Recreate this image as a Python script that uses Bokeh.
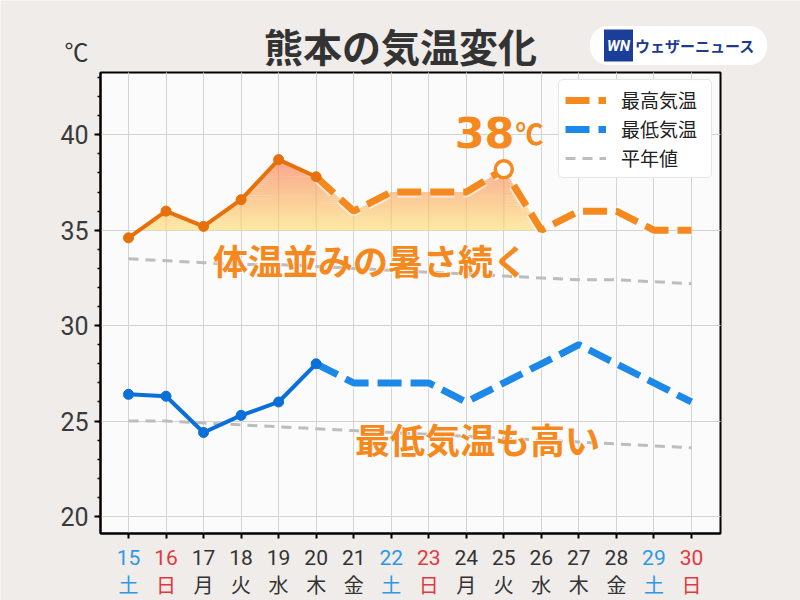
import numpy as np
from bokeh.plotting import figure
from bokeh.models import (Label, Legend, LegendItem, SingleIntervalTicker, FixedTicker, Range1d)
from bokeh.embed import file_html
from bokeh.resources import INLINE

# ---------------- data ----------------
days = [15, 16, 17, 18, 19, 20, 21, 22, 23, 24, 25, 26, 27, 28, 29, 30]
weekdays = ["土", "日", "月", "火", "水", "木", "金", "土", "日", "月", "火", "水", "木", "金", "土", "日"]
y_ticks = [20, 25, 30, 35, 40]

obs_days = [15, 16, 17, 18, 19, 20]
obs_max = [34.6, 36.0, 35.2, 36.6, 38.7, 37.8]
obs_min = [26.4, 26.3, 24.4, 25.3, 26.0, 28.0]

fc_days = [20, 21, 22, 23, 24, 25, 26, 27, 28, 29, 30]
fc_max = [37.8, 36.0, 37.0, 37.0, 37.0, 38.2, 35.0, 36.0, 36.0, 35.0, 35.0]
fc_min = [28.0, 27.0, 27.0, 27.0, 26.0, 27.0, 28.0, 29.0, 28.0, 27.0, 26.0]

normal_max = [33.5, 33.4, 33.3, 33.2, 33.2, 33.1, 33.0, 32.9, 32.8, 32.7, 32.6, 32.5, 32.4, 32.4, 32.3, 32.2]
normal_min = [25.0, 25.0, 24.9, 24.8, 24.7, 24.6, 24.5, 24.4, 24.3, 24.2, 24.1, 24.0, 23.9, 23.8, 23.7, 23.6]

peak_day = 25
peak_value = 38.2
fill_base = 35.0
fill_end_day = 26

title_text = "熊本の気温変化"
comment_high = "体温並みの暑さ続く"
comment_low = "最低気温も高い"
legend_labels = ["最高気温", "最低気温", "平年値"]

# ---------------- style ----------------
ORANGE = "#f5891e"
ORANGE_D = "#e8700a"
BLUE = "#1c88ea"
BLUE_D = "#0a6fd8"
GRAY = "#bdbdbd"
BG = "#efecea"
JP = "Noto Sans CJK JP"
SAT = "#2f98e4"
SUN = "#e2393d"
TXT = "#333333"

W, H = 800, 600
PXD = 37.53   # pixels per day
PYU = 19.085  # pixels per degree


def cx(px):
    return 15 + (px - 128) / PXD


def cy(py):
    return 20 + (516 - py) / PYU


XL, XR = cx(100), cx(720)
YB, YT = cy(533), cy(72)

p = figure(width=W, height=H, output_backend="svg", toolbar_location=None,
           x_range=Range1d(cx(0), cx(W)), y_range=Range1d(cy(H), cy(0)),
           min_border_left=0, min_border_right=0, min_border_top=0, min_border_bottom=0)
p.background_fill_color = BG
p.border_fill_color = BG
p.outline_line_color = None

# plot area
p.quad(left=[XL], right=[XR], bottom=[YB], top=[YT], fill_color="#fcfbfc",
       line_color="black", line_width=2, level="image")

# axes
p.yaxis.ticker = SingleIntervalTicker(interval=5, num_minor_ticks=5)
p.yaxis.fixed_location = XL
p.yaxis.bounds = (YB, YT)
p.yaxis.axis_line_width = 2
p.yaxis.axis_line_color = "black"
p.yaxis.major_tick_out = 6
p.yaxis.major_tick_in = 0
p.yaxis.minor_tick_out = 3
p.yaxis.minor_tick_in = 0
p.yaxis.major_tick_line_width = 2
p.yaxis.minor_tick_line_width = 1.5
p.yaxis.major_label_text_font_size = "25px"
p.yaxis.major_label_text_font = "Roboto"
p.yaxis.major_label_text_color = "#3a3a3a"
p.yaxis.major_label_standoff = 6

p.xaxis.ticker = FixedTicker(ticks=days)
p.xaxis.fixed_location = YB
p.xaxis.bounds = (XL, XR)
p.xaxis.axis_line_width = 2
p.xaxis.axis_line_color = "black"
p.xaxis.major_tick_out = 5
p.xaxis.major_tick_in = 0
p.xaxis.major_tick_line_width = 2
p.xaxis.minor_tick_line_color = None
p.xaxis.major_label_text_color = None

GRID = "#d3d3d3"
try:
    p.xgrid.cross_bounds = (YB, YT)
    p.ygrid.cross_bounds = (XL, XR)
    p.ygrid.bounds = (YB, YT)
    p.xgrid.bounds = (XL, XR)
    p.xgrid.grid_line_color = GRID
    p.ygrid.grid_line_color = GRID
except Exception:
    p.xgrid.visible = False
    p.ygrid.visible = False
    p.segment(x0=days, y0=[YB] * len(days), x1=days, y1=[YT] * len(days),
              line_color=GRID, line_width=1, level="underlay")
    p.segment(x0=[XL] * len(y_ticks), y0=y_ticks, x1=[XR] * len(y_ticks), y1=y_ticks,
              line_color=GRID, line_width=1, level="underlay")

# ---------------- gradient fill under max line ----------------
X = np.array(obs_days + fc_days[1:], dtype=float)
Y = np.array(obs_max + fc_max[1:], dtype=float)
mask = X <= fill_end_day
Xf, Yf = X[mask], Y[mask]
top = Yf.max()
c0 = np.array([253, 233, 163])
c1 = np.array([249, 166, 138])
levels = np.arange(fill_base, top + 0.1, 0.1)
for i in range(len(levels) - 1):
    a, b = levels[i], levels[i + 1]
    xs = list(Xf)
    for j in range(len(Xf) - 1):
        x0, x1, y0, y1 = Xf[j], Xf[j + 1], Yf[j], Yf[j + 1]
        for lv in (a, b):
            if (y0 - lv) * (y1 - lv) < 0:
                xs.append(x0 + (lv - y0) * (x1 - x0) / (y1 - y0))
    xs = np.array(sorted(xs))
    ys = np.interp(xs, Xf, Yf)
    y2 = np.clip(ys, a, b + 0.03)
    t = (0.5 * (a + b) - fill_base) / (top - fill_base)
    col = tuple(int(round(v)) for v in (c0 + (c1 - c0) * t))
    p.varea(x=xs, y1=a, y2=y2, fill_color="#%02x%02x%02x" % col, fill_alpha=1.0)

# faint grid lines through the fill
gd = [d for d in days if Xf[0] < d < fill_end_day]
gv = list(np.interp(gd, Xf, Yf))
p.segment(x0=gd, y0=[fill_base] * len(gd), x1=gd, y1=gv, line_color="#000000", line_alpha=0.08, line_width=1)

# ---------------- normals ----------------
r_norm = p.line(days, normal_max, line_color=GRAY, line_width=3, line_dash="10 7")
p.line(days, normal_min, line_color=GRAY, line_width=3, line_dash="10 7")

# ---------------- forecast (dashed) ----------------
p.line(fc_days, fc_max, line_color="white", line_alpha=0.55, line_width=11, line_dash="24 9")
r_fmax = p.line(fc_days, fc_max, line_color=ORANGE, line_width=7, line_dash="24 9")
p.line(fc_days, fc_min, line_color="white", line_alpha=0.55, line_width=11, line_dash="24 9")
r_fmin = p.line(fc_days, fc_min, line_color=BLUE, line_width=7, line_dash="24 9")

# ---------------- observed (solid) ----------------
p.line(obs_days, obs_max, line_color=ORANGE_D, line_width=4)
p.scatter(obs_days, obs_max, size=10, fill_color=ORANGE_D, line_color=ORANGE_D)
p.line(obs_days, obs_min, line_color=BLUE_D, line_width=4)
p.scatter(obs_days, obs_min, size=10, fill_color=BLUE_D, line_color=BLUE_D)

p.scatter([peak_day], [peak_value], size=17, fill_color="white", line_color=ORANGE, line_width=3.5)

# ---------------- legend ----------------
legend = Legend(items=[LegendItem(label=legend_labels[0], renderers=[r_fmax]),
                       LegendItem(label=legend_labels[1], renderers=[r_fmin]),
                       LegendItem(label=legend_labels[2], renderers=[r_norm])],
                location=(558, H - 178))
legend.label_text_font = JP
legend.label_text_font_size = "19px"
legend.label_text_color = "#222222"
legend.glyph_width = 41
legend.glyph_height = 20
legend.label_height = 20
legend.label_width = 84
legend.label_standoff = 15
legend.padding = 6
legend.spacing = 2
legend.margin = 0
legend.border_line_color = "#cccccc"
legend.border_line_width = 1
legend.background_fill_color = "white"
legend.background_fill_alpha = 1.0
try:
    legend.border_radius = 5
except Exception:
    pass
p.add_layout(legend)


def outlined_text(px, py, text, font, size, align, baseline):
    """orange bold text with white halo: outlined copy below, plain copy on top"""
    kw = dict(x=cx(px), y=cy(py), text=text, text_font=font, text_font_style="bold",
              text_font_size=size, text_color=ORANGE, text_align=align, text_baseline=baseline)
    under = Label(**kw)
    try:
        under.text_outline_color = "white"
        p.add_layout(under)
    except Exception:
        pass
    p.add_layout(Label(**kw))


outlined_text(370, 259, comment_high, JP, "35px", "center", "middle")
outlined_text(477, 438, comment_low, JP, "35px", "center", "middle")
outlined_text(514, 132, "%d" % round(peak_value), "DejaVu Sans", "43px", "right", "alphabetic")
outlined_text(515, 132, "℃", JP, "28px", "left", "alphabetic")

# title and unit
p.add_layout(Label(x=cx(400), y=cy(44), text=title_text, text_font=JP, text_font_style="bold",
                   text_font_size="39px", text_color=TXT, text_align="center", text_baseline="middle"))
p.add_layout(Label(x=cx(76), y=cy(50), text="℃", text_font=JP, text_font_size="24px",
                   text_color=TXT, text_align="center", text_baseline="middle"))

# logo
logo = Label(x=cx(678), y=cy(45), text="ウェザーニュース", text_font=JP, text_font_style="bold",
             text_font_size="15px", text_color="#1c3a8e", text_align="center", text_baseline="middle",
             background_fill_color="white")
try:
    logo.padding = dict(left=45, right=12, top=9, bottom=9)
except Exception:
    pass
try:
    logo.border_radius = 18
except Exception:
    pass
p.add_layout(logo)
wn = Label(x=cx(618), y=cy(45), text="WN", text_font="Roboto", text_font_style="bold italic",
           text_font_size="15px", text_color="white", text_align="center", text_baseline="middle",
           background_fill_color="#1b3f98")
try:
    wn.padding = dict(left=3, right=3, top=7, bottom=7)
except Exception:
    pass
p.add_layout(wn)

# x tick labels (two lines, coloured by weekday)
for d, w in zip(days, weekdays):
    col = SAT if w == "土" else (SUN if w == "日" else TXT)
    p.add_layout(Label(x=d, y=cy(557), text=str(d), text_font="Roboto", text_font_size="21px",
                       text_color=col, text_align="center", text_baseline="middle"))
    p.add_layout(Label(x=d, y=cy(584), text=w, text_font=JP, text_font_size="20px",
                       text_color=col, text_align="center", text_baseline="middle"))

html = file_html(p, INLINE)
html = html.replace("<body>", '<body style="background-color:%s;">' % BG, 1)
open("out.html", "w").write(html)
